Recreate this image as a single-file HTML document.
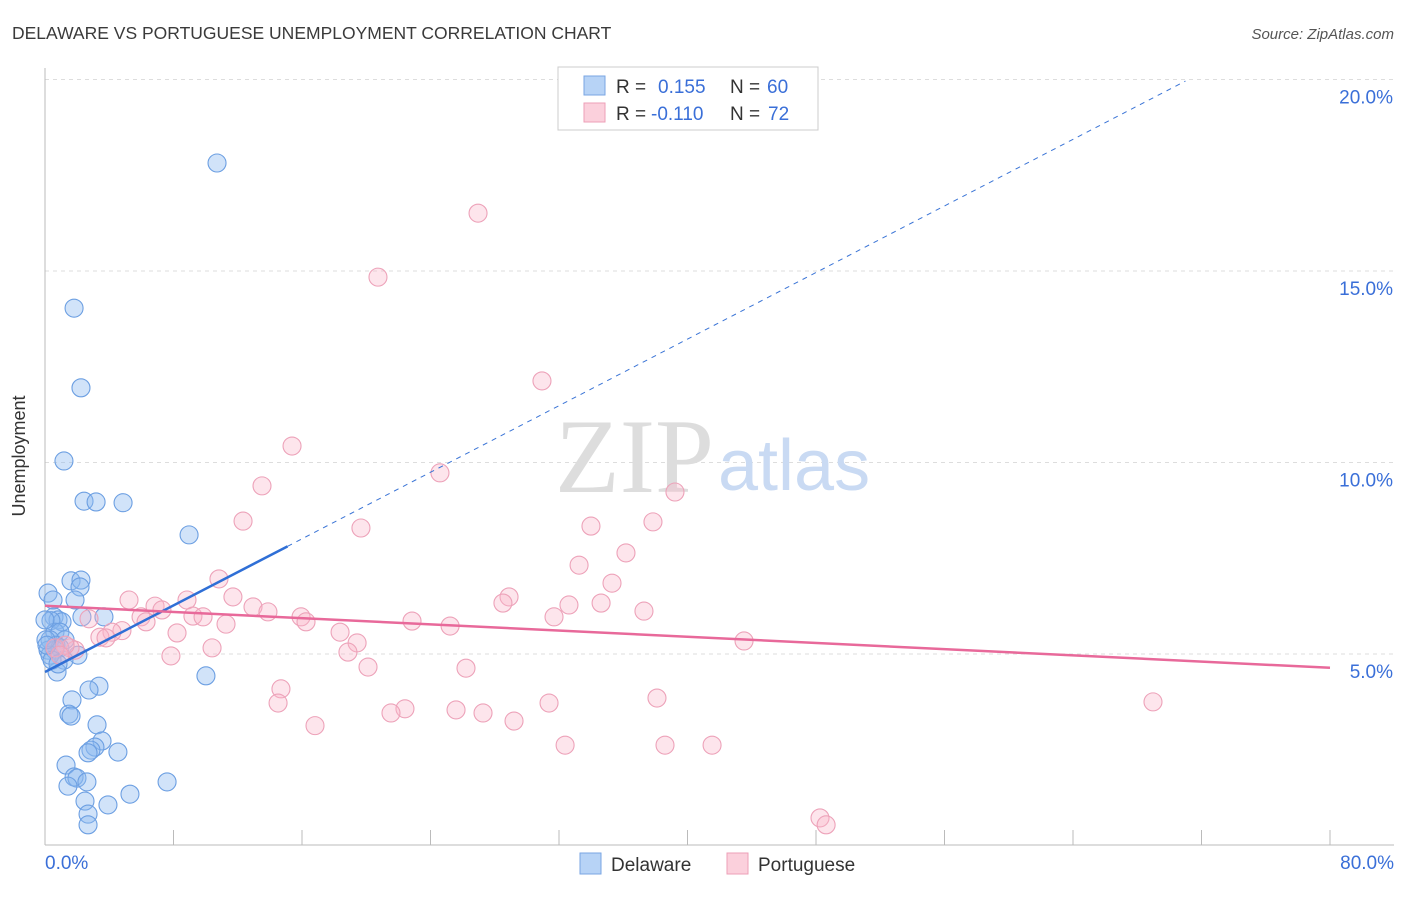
<!DOCTYPE html>
<html><head><meta charset="utf-8"><style>
body{margin:0;background:#fff;font-family:"Liberation Sans",sans-serif}
</style></head><body>
<svg width="1406" height="892" xmlns="http://www.w3.org/2000/svg">
<text x="12" y="39" font-size="17.5" fill="#3a3a3a">DELAWARE VS PORTUGUESE UNEMPLOYMENT CORRELATION CHART</text>
<text x="1394" y="39" font-size="15" fill="#555" text-anchor="end" font-style="italic">Source: ZipAtlas.com</text>
<g id="grid"></g>
<text x="555" y="492" font-size="106" fill="#ddd" font-family="Liberation Serif,serif">ZIP</text>
<text x="718" y="490" font-size="72" fill="#c9daf3">atlas</text>
<g id="marks"></g>
<text x="25" y="456" font-size="18" fill="#333" transform="rotate(-90 25 456)" text-anchor="middle">Unemployment</text>
<text x="45" y="869" font-size="19" fill="#3a6fd8">0.0%</text>
<text x="1394" y="869" font-size="19" fill="#3a6fd8" text-anchor="end">80.0%</text>
<g>
<rect x="558" y="67" width="260" height="63" fill="#fff" stroke="#ccc"/>
<rect x="584" y="76" width="21" height="19" fill="#b7d3f6" stroke="#7aa6e3"/>
<rect x="584" y="103" width="21" height="19" fill="#fbd0dc" stroke="#ee9fb7"/>
<text x="616" y="93" font-size="19" fill="#333">R =</text>
<text x="658" y="93" font-size="19" fill="#3a6fd8">0.155</text>
<text x="730" y="93" font-size="19" fill="#333">N =</text>
<text x="767" y="93" font-size="19" fill="#3a6fd8">60</text>
<text x="616" y="120" font-size="19" fill="#333">R =</text>
<text x="651" y="120" font-size="19" fill="#3a6fd8">-0.110</text>
<text x="730" y="120" font-size="19" fill="#333">N =</text>
<text x="768" y="120" font-size="19" fill="#3a6fd8">72</text>
</g>
<g>
<rect x="580" y="853" width="21" height="21" fill="#b7d3f6" stroke="#7aa6e3"/>
<text x="611" y="871" font-size="19" fill="#333">Delaware</text>
<rect x="727" y="853" width="21" height="21" fill="#fbd0dc" stroke="#ee9fb7"/>
<text x="758" y="871" font-size="19" fill="#333">Portuguese</text>
</g>
</svg>
<script>
const blueX=[10.71,1.81,2.24,1.18,2.43,3.18,4.86,8.97,0.19,1.62,2.24,2.18,1.87,0.56,0.81,1.06,3.67,2.30,0.37,0.62,0.93,1.25,0.31,0.68,0.19,0.62,0.93,2.05,1.18,0.75,10.02,3.36,2.74,1.68,1.49,1.62,3.24,3.55,3.11,2.86,2.68,4.54,1.31,1.81,1.99,2.61,1.43,7.60,5.29,2.49,3.92,2.68,2.68,0.31,0.06,0.44,0.0,0.12,0.50,0.81];
const blueY=[17.82,14.03,11.95,10.04,8.99,8.97,8.95,8.11,6.59,6.91,6.93,6.75,6.41,5.97,5.89,5.84,5.97,5.97,5.87,5.57,5.57,5.37,5.37,5.23,5.10,5.10,5.16,4.97,4.84,4.53,4.43,4.16,4.06,3.80,3.43,3.38,3.15,2.73,2.57,2.49,2.42,2.44,2.10,1.79,1.76,1.66,1.55,1.66,1.34,1.16,1.06,0.82,0.54,4.97,5.37,4.84,5.89,5.23,6.41,4.74];
const pinkX=[26.96,20.73,30.94,15.38,24.59,13.51,39.22,12.33,19.67,33.99,37.85,36.17,33.25,10.83,35.30,11.70,5.23,28.89,28.51,32.62,34.62,8.84,6.85,7.28,5.98,6.29,9.21,9.84,12.95,13.88,15.94,16.25,22.85,25.22,31.69,37.29,11.27,2.74,4.79,4.17,3.42,3.80,8.22,18.37,19.43,18.86,10.40,7.84,43.52,20.11,26.21,14.69,14.51,38.10,31.38,68.98,22.41,21.54,25.59,27.27,29.20,16.81,32.38,38.60,41.53,48.25,48.63,1.87,1.56,1.25,0.62,0.93];
const pinkY=[16.51,14.84,12.13,10.43,9.73,9.39,9.23,8.47,8.29,8.34,8.45,7.64,7.32,6.96,6.85,6.49,6.41,6.49,6.33,6.28,6.33,6.41,6.25,6.15,5.97,5.84,5.99,5.97,6.23,6.10,5.97,5.84,5.86,5.73,5.97,6.12,5.78,5.92,5.61,5.57,5.44,5.42,5.55,5.57,5.29,5.05,5.16,4.95,5.34,4.66,4.63,4.09,3.72,3.85,3.72,3.75,3.57,3.46,3.54,3.46,3.25,3.13,2.62,2.62,2.62,0.72,0.54,5.10,5.16,5.23,5.16,4.97];
const yTicks=[5,10,15,20];
const yTickLabels=["5.0%","10.0%","15.0%","20.0%"];
const xTicks=[0,8,16,24,32,40,48,56,64,72,80];
const blueTrend=[4.53,0.2173];
const pinkTrend=[6.26,-0.02025];
const blueSolidEnd=15.1, blueDashEnd=71;
const NS="http://www.w3.org/2000/svg";
const sx=v=>45+v/80*1285, sy=v=>845.5-v*38.3;
function mk(t,a,p){const e=document.createElementNS(NS,t);for(const k in a)e.setAttribute(k,a[k]);p.appendChild(e);return e;}
const grid=document.getElementById('grid'), marks=document.getElementById('marks');
yTicks.forEach((t,i)=>{
 const l=mk('line',{x1:45,x2:1394,y1:sy(t),y2:sy(t),stroke:'#ddd','stroke-dasharray':'4,4'},grid);
 
 
 const tx=mk('text',{x:1393,y:sy(t)+24,'font-size':19,fill:'#3a6fd8','text-anchor':'end'},grid);
 tx.textContent=yTickLabels[i];
 
 
});
const ax=mk('line',{x1:45,x2:1394,y1:845,y2:845,stroke:'#bbb'},grid);


const ay=mk('line',{x1:45,x2:45,y1:68,y2:845,stroke:'#bbb'},grid);


xTicks.forEach(t=>{
 const l=mk('line',{x1:sx(t),x2:sx(t),y1:830,y2:845,stroke:'#bbb'},grid);
 
 
});
blueX.forEach((x,i)=>{
 const c=mk('circle',{cx:sx(x),cy:sy(blueY[i]),r:9,fill:'rgba(140,185,240,0.4)',stroke:'#6c9fe2','stroke-width':1.1},marks);
 
 
});
pinkX.forEach((x,i)=>{
 const c=mk('circle',{cx:sx(x),cy:sy(pinkY[i]),r:9,fill:'rgba(248,180,200,0.35)',stroke:'#eda2b9','stroke-width':1.1},marks);
 
 
});
const bt=x=>blueTrend[0]+blueTrend[1]*x, pt=x=>pinkTrend[0]+pinkTrend[1]*x;
const bd=mk('line',{x1:sx(blueSolidEnd),y1:sy(bt(blueSolidEnd)),x2:sx(blueDashEnd),y2:sy(bt(blueDashEnd)),stroke:'#3a74d6','stroke-width':1,'stroke-dasharray':'5,5'},marks);


const bs=mk('line',{x1:sx(0),y1:sy(bt(0)),x2:sx(blueSolidEnd),y2:sy(bt(blueSolidEnd)),stroke:'#2f6fd6','stroke-width':2.5},marks);


const ps=mk('line',{x1:sx(0),y1:sy(pt(0)),x2:sx(80),y2:sy(pt(80)),stroke:'#e8699a','stroke-width':2.5},marks);


</script>
</body></html>
